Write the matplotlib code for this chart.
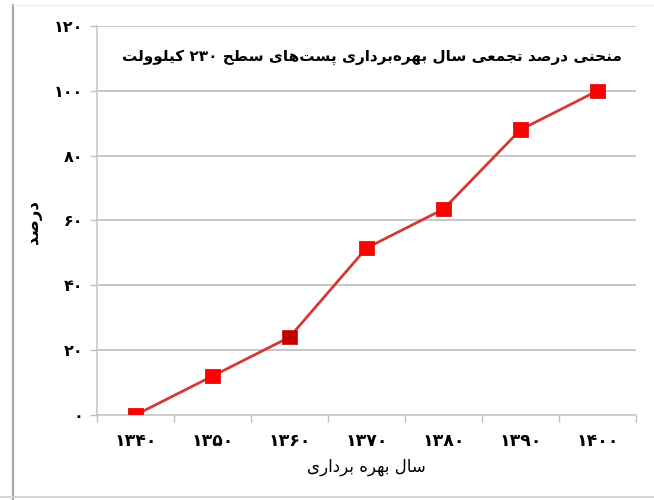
import re
import matplotlib
matplotlib.use("Agg")
import matplotlib.pyplot as plt
from matplotlib.lines import Line2D

# ---- data -------------------------------------------------------------
years = ["۱۳۴۰", "۱۳۵۰", "۱۳۶۰", "۱۳۷۰", "۱۳۸۰", "۱۳۹۰", "۱۴۰۰"]
cumulative_pct = [0, 12, 24, 51.5, 63.5, 88, 100]
y_ticks = [0, 20, 40, 60, 80, 100, 120]
y_tick_labels = ["۰", "۲۰", "۴۰", "۶۰", "۸۰", "۱۰۰", "۱۲۰"]
title_text = "منحنی درصد تجمعی سال بهره\u200cبرداری پست\u200cهای سطح ۲۳۰ کیلوولت"
x_label_text = "سال بهره برداری"
y_label_text = "درصد"

# ---- minimal Persian shaping (presentation forms + RTL order) ----------
# (isolated, final, initial, medial)
FORMS = {
    "\u0627": ("\uFE8D", "\uFE8E", None, None),          # alef
    "\u0628": ("\uFE8F", "\uFE90", "\uFE91", "\uFE92"),  # beh
    "\u067E": ("\uFB56", "\uFB57", "\uFB58", "\uFB59"),  # peh
    "\u062A": ("\uFE95", "\uFE96", "\uFE97", "\uFE98"),  # teh
    "\u062C": ("\uFE9D", "\uFE9E", "\uFE9F", "\uFEA0"),  # jeem
    "\u062D": ("\uFEA1", "\uFEA2", "\uFEA3", "\uFEA4"),  # hah
    "\u062F": ("\uFEA9", "\uFEAA", None, None),          # dal
    "\u0631": ("\uFEAD", "\uFEAE", None, None),          # reh
    "\u0633": ("\uFEB1", "\uFEB2", "\uFEB3", "\uFEB4"),  # seen
    "\u0635": ("\uFEB9", "\uFEBA", "\uFEBB", "\uFEBC"),  # sad
    "\u0637": ("\uFEC1", "\uFEC2", "\uFEC3", "\uFEC4"),  # tah
    "\u0639": ("\uFEC9", "\uFECA", "\uFECB", "\uFECC"),  # ain
    "\u06A9": ("\uFB8E", "\uFB8F", "\uFB90", "\uFB91"),  # keheh
    "\u0644": ("\uFEDD", "\uFEDE", "\uFEDF", "\uFEE0"),  # lam
    "\u0645": ("\uFEE1", "\uFEE2", "\uFEE3", "\uFEE4"),  # meem
    "\u0646": ("\uFEE5", "\uFEE6", "\uFEE7", "\uFEE8"),  # noon
    "\u0647": ("\uFEE9", "\uFEEA", "\uFEEB", "\uFEEC"),  # heh
    "\u0648": ("\uFEED", "\uFEEE", None, None),          # waw
    "\u06CC": ("\uFBFC", "\uFBFD", "\uFBFE", "\uFBFF"),  # farsi yeh
}


def _dual(c):
    return c in FORMS and FORMS[c][2] is not None


def _joining(c):
    return c in FORMS


def persian(text):
    s = text.replace("\u064A", "\u06CC").replace("\u0643", "\u06A9")
    out = []
    for i, c in enumerate(s):
        if c not in FORMS:
            if c != "\u200C":
                out.append(c)
            continue
        prev = s[i - 1] if i > 0 else ""
        nxt = s[i + 1] if i + 1 < len(s) else ""
        jp = _dual(prev)
        jn = _dual(c) and _joining(nxt)
        iso, fin, ini, med = FORMS[c]
        if jp and jn:
            out.append(med)
        elif jp:
            out.append(fin)
        elif jn:
            out.append(ini)
        else:
            out.append(iso)
    visual = "".join(out)[::-1]
    return re.sub(r"[\u06F0-\u06F9]+", lambda m: m.group(0)[::-1], visual)


# ---- figure -----------------------------------------------------------
plt.rcParams["font.family"] = ["DejaVu Sans"]
fig = plt.figure(figsize=(6.54, 5.0), dpi=100)
ax = fig.add_axes([97 / 654, 85 / 500, 539 / 654, 389 / 500])

x = list(range(len(years)))
ax.plot(x, cumulative_pct, color="#D23A36", lw=2.0, zorder=3)
marker_colors = ["#FF0000"] * len(years)
marker_colors[2] = "#C00000"
ax.scatter(x, cumulative_pct, marker="s", s=110, c=marker_colors,
           edgecolors="#E01010", linewidths=0.6, zorder=4)

ax.set_xlim(-0.5, len(years) - 0.5)
ax.set_ylim(0, 120)
ax.set_yticks(y_ticks)
ax.set_yticklabels(y_tick_labels, fontsize=11.5, fontweight="bold")
ax.set_xticks(x)
ax.set_xticklabels(years, fontsize=12.5, fontweight="bold")
ax.set_xticks([i - 0.5 for i in range(len(years) + 1)], minor=True)
ax.tick_params(axis="x", which="major", length=0, pad=12)
ax.tick_params(axis="x", which="minor", length=5, color="#BFBFBF", width=1)
ax.tick_params(axis="y", length=5, color="#BFBFBF", width=1, pad=5)

ax.grid(axis="y", color="#C8C8C8", lw=1.4)
ax.set_axisbelow(True)
for side in ("top", "right"):
    ax.spines[side].set_visible(False)
for side in ("left", "bottom"):
    ax.spines[side].set_color("#C8C8C8")
    ax.spines[side].set_linewidth(1.2)

ax.text(0.51, 0.92, persian(title_text), transform=ax.transAxes,
        ha="center", va="center", fontsize=11, fontweight="bold")
ax.set_xlabel(persian(x_label_text), fontsize=12, labelpad=6)
fig.text(33 / 654, 1 - 222 / 500, persian(y_label_text), rotation=90,
         ha="center", va="center", fontsize=12, fontweight="bold")

# outer frame lines
fig.add_artist(Line2D([13 / 654, 13 / 654], [0, 1 - 5 / 500],
                      transform=fig.transFigure, color="#A8A8A8", lw=1.6))
fig.add_artist(Line2D([13 / 654, 1], [1 - 5 / 500, 1 - 5 / 500],
                      transform=fig.transFigure, color="#EEEEEE", lw=1.0))
fig.add_artist(Line2D([0, 1], [3 / 500, 3 / 500],
                      transform=fig.transFigure, color="#D0D0D0", lw=1.2))

fig.savefig("out.png", dpi=100)
